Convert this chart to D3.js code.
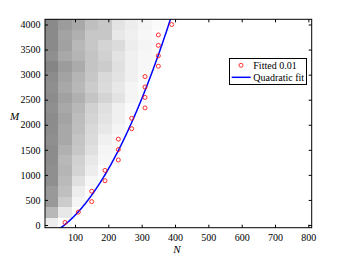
<!DOCTYPE html>
<html>
<head>
<meta charset="utf-8">
<script src="https://cdn.jsdelivr.net/npm/d3@7"></script>
<style>
  html, body { margin: 0; padding: 0; background: #fff; }
  svg { display: block; }
  text { font-family: "Liberation Serif", "DejaVu Serif", serif; fill: #000; }
</style>
</head>
<body>
<svg id="chart" width="346" height="260"></svg>
<script>
// ---- data ----
// grid of N (columns) and M (rows) values
const nValues = [30, 70, 110, 150, 190, 230, 270, 310, 350, 390, 430, 470, 510, 550, 590, 630, 670, 710, 750, 790];
const mValues = [50, 258, 466, 674, 882, 1089, 1297, 1505, 1713, 1921, 2129, 2337, 2545, 2753, 2961, 3168, 3376, 3584, 3792, 4000];
// gray level (0 = black, 1 = white) of each cell, row by row from M = 50 upward;
// cells beyond the listed ones are white (1)
const grayRows = [
  [0.93],
  [0.72, 0.91],
  [0.60, 0.80, 0.96],
  [0.60, 0.75, 0.93, 0.99],
  [0.56, 0.73, 0.88, 0.97],
  [0.56, 0.71, 0.83, 0.93, 0.99],
  [0.55, 0.72, 0.82, 0.91, 0.97],
  [0.55, 0.69, 0.78, 0.88, 0.96, 0.99],
  [0.56, 0.66, 0.77, 0.86, 0.94, 0.98],
  [0.55, 0.66, 0.75, 0.85, 0.91, 0.96, 0.99],
  [0.55, 0.64, 0.74, 0.83, 0.89, 0.94, 0.99],
  [0.56, 0.66, 0.72, 0.82, 0.88, 0.94, 0.98],
  [0.55, 0.63, 0.69, 0.77, 0.83, 0.89, 0.96, 0.99],
  [0.56, 0.66, 0.72, 0.80, 0.86, 0.91, 0.96, 0.99],
  [0.55, 0.64, 0.71, 0.78, 0.85, 0.89, 0.94, 0.98],
  [0.52, 0.61, 0.67, 0.77, 0.80, 0.88, 0.94, 0.97, 0.995],
  [0.56, 0.66, 0.71, 0.77, 0.82, 0.89, 0.94, 0.97, 0.995],
  [0.54, 0.63, 0.72, 0.78, 0.83, 0.86, 0.93, 0.96, 0.99],
  [0.54, 0.64, 0.69, 0.78, 0.78, 0.91, 0.94, 0.97, 0.995],
  [0.54, 0.61, 0.66, 0.75, 0.78, 0.89, 0.93, 0.96, 0.98, 0.995]
];
// "Fitted 0.01" points
const fittedN = [70, 110, 150, 150, 190, 190, 230, 230, 230, 270, 270, 310, 310, 310, 310, 350, 350, 350, 350, 390];
const fittedM = [50, 258, 466, 674, 882, 1089, 1297, 1505, 1713, 1921, 2129, 2337, 2545, 2753, 2961, 3168, 3376, 3584, 3792, 4000];
// tick labels
const xTicks = [100, 200, 300, 400, 500, 600, 700, 800];
const yTicks = [0, 500, 1000, 1500, 2000, 2500, 3000, 3500, 4000];
const legendLabels = ["Fitted 0.01", "Quadratic fit"];

// ---- layout ----
const L = 45, R = 311.7, T = 19.3, B = 227.7;
const FONT = "'Liberation Serif', 'DejaVu Serif', serif";
const svg = d3.select("#chart");
svg.append("rect").attr("width", 346).attr("height", 260).attr("fill", "#fff");

const dN = nValues[1] - nValues[0];
const dM = (mValues[mValues.length - 1] - mValues[0]) / (mValues.length - 1);
const x = d3.scaleLinear().domain([nValues[0] - dN / 2, nValues[nValues.length - 1] + dN / 2]).range([L, R]);
const y = d3.scaleLinear().domain([mValues[0] - dM / 2, mValues[mValues.length - 1] + dM / 2]).range([B, T]);
const gray = d3.scaleLinear().domain([0, 1]).range(["#000000", "#ffffff"]);

// cells
const cells = [];
mValues.forEach((m, i) => {
  nValues.forEach((n, j) => {
    const v = j < grayRows[i].length ? grayRows[i][j] : 1;
    cells.push({ n, m, v });
  });
});
svg.append("g").selectAll("rect").data(cells).join("rect")
  .attr("x", d => x(d.n - dN / 2))
  .attr("y", d => y(d.m + dM / 2))
  .attr("width", d => x(d.n + dN / 2) - x(d.n - dN / 2) + 0.3)
  .attr("height", d => y(d.m - dM / 2) - y(d.m + dM / 2) + 0.3)
  .attr("fill", d => gray(d.v))
  .attr("shape-rendering", "crispEdges");

// clip
svg.append("clipPath").attr("id", "clip").append("rect")
  .attr("x", L).attr("y", T).attr("width", R - L).attr("height", B - T);

// quadratic least-squares fit of the fitted points
function quadFit(xs, ys) {
  const n = xs.length;
  let s = [0, 0, 0, 0, 0], t = [0, 0, 0];
  for (let i = 0; i < n; i++) {
    const u = xs[i];
    let p = 1;
    for (let k = 0; k < 5; k++) { s[k] += p; p *= u; }
    t[0] += ys[i]; t[1] += ys[i] * u; t[2] += ys[i] * u * u;
  }
  const A = [[s[0], s[1], s[2], t[0]], [s[1], s[2], s[3], t[1]], [s[2], s[3], s[4], t[2]]];
  for (let c = 0; c < 3; c++) {
    for (let r = c + 1; r < 3; r++) {
      const f = A[r][c] / A[c][c];
      for (let k = c; k < 4; k++) A[r][k] -= f * A[c][k];
    }
  }
  const co = [0, 0, 0];
  for (let r = 2; r >= 0; r--) {
    let v = A[r][3];
    for (let k = r + 1; k < 3; k++) v -= A[r][k] * co[k];
    co[r] = v / A[r][r];
  }
  return co; // c0 + c1 n + c2 n^2
}
const co = quadFit(fittedN, fittedM);
const curveN = d3.range(0, 501, 2);
const curve = curveN.map(n => [n, co[0] + co[1] * n + co[2] * n * n]);
svg.append("path")
  .attr("clip-path", "url(#clip)")
  .attr("d", d3.line().x(d => x(d[0])).y(d => y(d[1]))(curve))
  .attr("fill", "none").attr("stroke", "#0000ff").attr("stroke-width", 1.5);

// points
svg.append("g").selectAll("circle").data(fittedN.map((n, i) => [n, fittedM[i]])).join("circle")
  .attr("cx", d => x(d[0])).attr("cy", d => y(d[1])).attr("r", 2)
  .attr("fill", "none").attr("stroke", "#ff0000").attr("stroke-width", 0.8);

// axes
const tk = 3;
const fmt = d3.format("d");
const xb = svg.append("g").attr("transform", `translate(0,${B})`)
  .call(d3.axisBottom(x).tickValues(xTicks).tickFormat(fmt).tickSizeInner(-tk).tickSizeOuter(0).tickPadding(6.5));
const xt = svg.append("g").attr("transform", `translate(0,${T})`)
  .call(d3.axisTop(x).tickValues(xTicks).tickSizeInner(-tk).tickSizeOuter(0).tickFormat(""));
const yl = svg.append("g").attr("transform", `translate(${L},0)`)
  .call(d3.axisLeft(y).tickValues(yTicks).tickFormat(fmt).tickSizeInner(-tk).tickSizeOuter(0).tickPadding(4.5));
const yr = svg.append("g").attr("transform", `translate(${R},0)`)
  .call(d3.axisRight(y).tickValues(yTicks).tickSizeInner(-tk).tickSizeOuter(0).tickFormat(""));
[xb, xt, yl, yr].forEach(g => {
  g.attr("font-family", FONT).attr("font-size", 10);
  g.select(".domain").remove();
  g.selectAll("line").attr("stroke", "#000").attr("stroke-width", 1);
  g.selectAll("text").attr("font-family", FONT).attr("font-size", 10).attr("fill", "#000");
});
svg.append("rect").attr("x", L).attr("y", T).attr("width", R - L).attr("height", B - T)
  .attr("fill", "none").attr("stroke", "#000").attr("stroke-width", 1);

// axis labels
svg.append("text").attr("x", 177).attr("y", 252.5).attr("text-anchor", "middle")
  .attr("font-family", FONT).attr("font-size", 11).attr("font-style", "italic").text("N");
svg.append("text").attr("x", 14.5).attr("y", 119.5).attr("text-anchor", "middle")
  .attr("font-family", FONT).attr("font-size", 11).attr("font-style", "italic").text("M");

// legend
const lg = svg.append("g").attr("font-family", FONT);
lg.append("rect").attr("x", 229.5).attr("y", 58.5).attr("width", 77).attr("height", 26)
  .attr("fill", "#fff").attr("stroke", "#000").attr("stroke-width", 1);
lg.append("circle").attr("cx", 241).attr("cy", 65.3).attr("r", 2)
  .attr("fill", "none").attr("stroke", "#ff0000").attr("stroke-width", 0.8);
lg.append("text").attr("x", 253.3).attr("y", 68.7).attr("font-size", 10).text(legendLabels[0]);
lg.append("line").attr("x1", 231.7).attr("x2", 250.7).attr("y1", 77.3).attr("y2", 77.3)
  .attr("stroke", "#0000ff").attr("stroke-width", 1.5);
lg.append("text").attr("x", 253.3).attr("y", 80.7).attr("font-size", 10).text(legendLabels[1]);
</script>
</body>
</html>
